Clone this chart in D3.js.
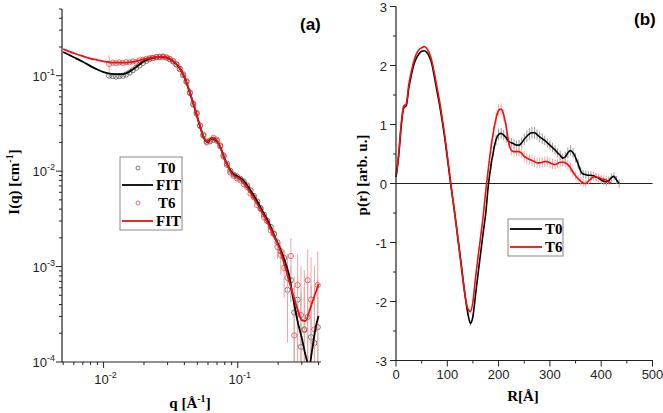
<!DOCTYPE html>
<html><head><meta charset="utf-8">
<script src="https://cdn.jsdelivr.net/npm/d3@7"></script>
<style>body{margin:0;background:#fff}svg{display:block}</style>
</head><body>
<svg id="c" width="663" height="413"></svg>
<script>
// ---------- Panel (a): SAXS curves ----------
const fitQ = [0.005,0.006,0.007,0.008,0.009,0.010,0.012,0.014,0.016,0.018,0.020,0.022,0.025,0.028,0.030,0.033,0.036,0.040,0.044,0.048,0.052,0.056,0.060,0.064,0.068,0.072,0.076,0.080,0.085,0.090,0.095,0.10,0.11,0.12,0.13,0.14,0.15,0.16,0.17,0.18,0.19,0.20,0.22,0.24,0.26,0.28,0.30,0.32,0.34,0.36,0.38,0.40];
const fitT0 = [0.177,0.156,0.140,0.126,0.116,0.109,0.104,0.104,0.113,0.127,0.142,0.151,0.156,0.157,0.154,0.141,0.126,0.097,0.066,0.0448,0.0303,0.0222,0.0202,0.0220,0.0214,0.0194,0.0164,0.0133,0.0112,0.0097,0.0091,0.0088,0.0080,0.0068,0.0057,0.0048,0.0040,0.0034,0.0029,0.0024,0.0020,0.00172,0.00123,0.000836,0.000447,0.000262,0.000178,0.000118,0.0000906,0.000140,0.000227,0.000303];
const fitT6 = [0.190,0.172,0.160,0.151,0.146,0.141,0.137,0.137,0.139,0.143,0.149,0.153,0.157,0.158,0.155,0.142,0.127,0.0976,0.0663,0.0451,0.0306,0.0223,0.0203,0.0223,0.0218,0.0196,0.0163,0.0131,0.0110,0.00948,0.00881,0.00851,0.00762,0.00644,0.00537,0.00454,0.00379,0.00324,0.00273,0.00231,0.00195,0.00169,0.00112,0.000723,0.000492,0.000351,0.000275,0.000269,0.000334,0.000426,0.000528,0.000656];

const dataQ = [0.0110,0.0117,0.0124,0.0131,0.0139,0.0147,0.0156,0.0165,0.0175,0.0185,0.0196,0.0208,0.0220,0.0233,0.0247,0.0262,0.0277,0.0294,0.0311,0.0330,0.0349,0.0370,0.0392,0.0415,0.0440,0.0466,0.0494,0.0523,0.0554,0.0587,0.0622,0.0659,0.0698,0.0740,0.0784,0.0830,0.0880,0.0932,0.0987,0.1046,0.1108,0.1174,0.1244,0.1318,0.1396,0.1479,0.1567,0.1660,0.1759,0.1863,0.1974,0.2091,0.2216,0.2347,0.2487,0.2635,0.2791,0.2957,0.3133,0.3319,0.3516,0.3725,0.3946];
const dataT0 = [0.100,0.099,0.098,0.099,0.100,0.103,0.108,0.114,0.121,0.128,0.136,0.143,0.149,0.153,0.156,0.158,0.158,0.155,0.149,0.141,0.131,0.117,0.101,0.086,0.066,0.050,0.040,0.030,0.024,0.0204,0.0205,0.0214,0.0208,0.0182,0.0146,0.0120,0.0101,0.0092,0.0088,0.0083,0.0078,0.0071,0.0063,0.0055,0.0048,0.0041,0.0035,0.0030,0.0026,0.0022,0.0018,0.00145,0.00123,0.00057,0.00072,0.00033,0.00045,0.000144,0.000216,0.000296,0.000182,0.000158,0.000232];
const errT0a = [0.004,0.003,0.003,0.003,0.003,0.003,0.003,0.003,0.003,0.003,0.003,0.003,0.003,0.003,0.003,0.003,0.003,0.003,0.003,0.003,0.003,0.002,0.002,0.002,0.0015,0.001,0.0008,0.0006,0.0005,0.0004,0.0004,0.0004,0.0004,0.0003,0.0003,0.0003,0.0002,0.0002,0.0002,0.0002,0.0002,0.0002,0.0002,0.0002,0.0002,0.0002,0.0002,0.0002,0.0002,0.0002,0.0002,0.0002,0.00025,0.0003,0.0003,0.0003,0.00035,0.0004,0.0004,0.0004,0.00045,0.00045,0.0005];
const dataT6 = [0.133,0.137,0.135,0.138,0.136,0.139,0.138,0.141,0.140,0.145,0.147,0.150,0.153,0.154,0.157,0.157,0.159,0.155,0.150,0.142,0.132,0.119,0.104,0.088,0.067,0.051,0.041,0.030,0.0235,0.0200,0.0210,0.0224,0.0214,0.0186,0.0142,0.0116,0.0097,0.0089,0.0084,0.0080,0.0073,0.0068,0.0058,0.0053,0.0044,0.0040,0.0033,0.0030,0.0024,0.0022,0.0016,0.00132,0.00097,0.00076,0.00129,0.00019,0.00064,0.00031,0.00022,0.00072,0.00045,0.00022,0.00064];
const errT6a = [0.030,0.004,0.004,0.004,0.004,0.004,0.004,0.004,0.004,0.004,0.004,0.004,0.004,0.004,0.004,0.004,0.004,0.004,0.004,0.004,0.003,0.003,0.003,0.002,0.002,0.0015,0.001,0.0008,0.0006,0.0005,0.0005,0.0005,0.0005,0.0004,0.0004,0.0004,0.0003,0.0003,0.0003,0.0003,0.0003,0.0003,0.0003,0.0003,0.0003,0.0003,0.0003,0.0003,0.0003,0.0003,0.0004,0.0005,0.0005,0.0006,0.0007,0.0006,0.0007,0.0007,0.0007,0.0008,0.0008,0.0008,0.0008];

const qTicks = [0.01, 0.1];
const iTicks = [1e-4, 1e-3, 1e-2, 1e-1];

// ---------- Panel (b): p(r) ----------
const rT0 = d3.range(0, 436, 5);
const pT0 = [0.11,0.45,0.95,1.28,1.32,1.62,1.84,2.02,2.13,2.20,2.24,2.25,2.22,2.15,2.02,1.80,1.56,1.33,1.06,0.77,0.44,
 0.10,-0.22,-0.54,-0.88,-1.22,-1.58,-1.92,-2.20,-2.37,-2.25,-1.89,-1.53,-1.18,-0.83,-0.50,-0.03,0.30,0.55,0.74,0.83,
 0.85,0.82,0.77,0.71,0.69,0.67,0.65,0.65,0.69,0.75,0.80,0.84,0.86,0.86,0.83,0.79,0.76,0.73,0.69,0.65,
 0.61,0.57,0.52,0.48,0.43,0.45,0.52,0.56,0.52,0.44,0.33,0.21,0.16,0.15,0.14,0.14,0.13,0.11,0.09,0.06,
 0.04,0.03,0.05,0.10,0.12,0.06,0.00];
const ePT0 = [0,0,0,0,0,0,0,0,0,0,0,0,0,0,0,0,0,0,0,0,0,0,0,0,0,0,0,0,
 0.04,0.05,0.04,0.03,0,0,0,0,0,
 0.08,0.09,0.09,0.10,0.09,0.09,0.08,0.08,0.08,0.08,0.08,0.09,0.09,0.10,0.10,0.10,0.10,0.10,0.09,0.09,0.09,0.08,0.08,0.08,0.08,0.08,0.08,0.08,0.08,0.09,0.09,0.09,0.08,0.08,0.08,0.07,0.07,0.07,0.07,0.07,0.07,0.07,0.07,0.07,0.07,0.07,0.07,0.07,0.07,0.07,0.07];
const rT6 = d3.range(0, 421, 5);
const pT6 = [0.12,0.48,1.00,1.31,1.35,1.68,1.90,2.08,2.20,2.27,2.30,2.32,2.29,2.21,2.07,1.86,1.63,1.39,1.11,0.82,0.48,
 0.13,-0.22,-0.54,-0.90,-1.25,-1.60,-1.92,-2.12,-2.17,-2.00,-1.60,-1.24,-0.90,-0.55,-0.12,0.25,0.60,0.88,1.10,1.24,
 1.26,1.16,0.95,0.68,0.56,0.54,0.54,0.54,0.51,0.46,0.43,0.41,0.39,0.37,0.35,0.35,0.36,0.37,0.37,0.35,
 0.33,0.32,0.34,0.36,0.36,0.35,0.32,0.27,0.19,0.13,0.08,0.04,0.01,0.00,0.04,0.08,0.11,0.11,0.10,0.08,
 0.07,0.06,0.03,0.00];
const ePT6 = [0,0,0,0,0,0,0,0,0,0,0,0,0,0,0,0,0,0,0,0,0,0,0,0,0,0,0,0,
 0.03,0.04,0.03,0.03,0,0,0,0,0,
 0.08,0.09,0.10,0.10,0.10,0.10,0.09,0.08,0.08,0.08,0.08,0.08,0.08,0.09,0.09,0.09,0.09,0.09,0.09,0.09,0.09,0.09,0.09,0.09,0.09,0.08,0.08,0.08,0.08,0.08,0.08,0.08,0.08,0.07,0.07,0.07,0.07,0.07,0.07,0.07,0.07,0.07,0.07,0.07,0.07,0.07];
const rTicks = [0,100,200,300,400,500];
const pTicks = [-3,-2,-1,0,1,2,3];

const svg = d3.select("#c");
const SANS = "Arial, 'Liberation Sans', sans-serif";
const SERIF = "'Times New Roman', 'Liberation Serif', serif";

// ===== Panel (a) =====
const xa = d3.scaleLog().domain([0.0049, 0.41]).range([62, 320]);
const ya = d3.scaleLog().domain([1e-4, 0.5]).range([362, 9]);
svg.append("clipPath").attr("id","clipA").append("rect").attr("x",62).attr("y",0).attr("width",262).attr("height",362);
const gA = svg.append("g").attr("clip-path","url(#clipA)");

function errBars(g, qs, vs, es, color, sx, sy) {
  g.selectAll(null).data(qs.map((q,i)=>({q, v:vs[i], e:es[i]}))).enter().append("line")
    .attr("x1", d=>sx(d.q)).attr("x2", d=>sx(d.q))
    .attr("y1", d=>sy(Math.max(d.v - d.e, 1e-6)))
    .attr("y2", d=>sy(d.v + d.e))
    .attr("stroke", color).attr("stroke-width", 1);
}
const ptsT0 = dataQ.map((q,i)=>({q, v:dataT0[i]}));
const ptsT6 = dataQ.map((q,i)=>({q, v:dataT6[i]}));
errBars(gA, dataQ, dataT0, errT0a, "#a8a8a8", xa, ya);
gA.selectAll(null).data(ptsT0).enter().append("circle")
  .attr("cx", d=>xa(d.q)).attr("cy", d=>ya(d.v)).attr("r", 2.6)
  .attr("fill","none").attr("stroke","#555").attr("stroke-width",0.8);
errBars(gA, dataQ, dataT6, errT6a, "#f2a4a4", xa, ya);
gA.selectAll(null).data(ptsT6).enter().append("circle")
  .attr("cx", d=>xa(d.q)).attr("cy", d=>ya(d.v)).attr("r", 2.6)
  .attr("fill","none").attr("stroke","#e34a4a").attr("stroke-width",0.8);
const lineA = d3.line().x(d=>xa(d[0])).y(d=>ya(d[1])).curve(d3.curveMonotoneX);
gA.append("path").attr("d", lineA(fitQ.map((q,i)=>[q, fitT0[i]])))
  .attr("fill","none").attr("stroke","#000").attr("stroke-width",1.8);
gA.append("path").attr("d", lineA(fitQ.map((q,i)=>[q, fitT6[i]])))
  .attr("fill","none").attr("stroke","#ee1111").attr("stroke-width",1.8);

// axes (a)
const axA = svg.append("g").attr("stroke","#222").attr("stroke-width",1.2);
axA.append("line").attr("x1",62).attr("x2",62).attr("y1",9).attr("y2",362);
axA.append("line").attr("x1",62).attr("x2",321).attr("y1",362).attr("y2",362);
// y minor/major ticks
const yMin = [];
for (let e=-4; e<=-1; e++) for (let m=1; m<=9; m++) { const v = m*Math.pow(10,e); if (v<=0.5) yMin.push({v, major:m===1}); }
axA.selectAll(null).data(yMin).enter().append("line")
  .attr("x1",62).attr("x2", d=> d.major ? 56 : 59)
  .attr("y1", d=>ya(d.v)).attr("y2", d=>ya(d.v)).attr("stroke-width",1);
const xMin = [];
for (let e=-3; e<=-1; e++) for (let m=1; m<=9; m++) { const v = m*Math.pow(10,e); if (v>=0.0049 && v<=0.41) xMin.push({v, major:m===1}); }
axA.selectAll(null).data(xMin).enter().append("line")
  .attr("y1",362).attr("y2", d=> d.major ? 368 : 365)
  .attr("x1", d=>xa(d.v)).attr("x2", d=>xa(d.v)).attr("stroke-width",1);
// labels
function powLabel(g, x, y, exp, anchor) {
  const t = g.append("text").attr("x",x).attr("y",y).attr("text-anchor",anchor)
    .attr("font-family",SANS).attr("font-size",13).attr("fill","#222");
  t.append("tspan").text("10");
  t.append("tspan").attr("dy",-6).attr("font-size",9).text(exp);
}
iTicks.forEach(v => powLabel(svg, 55, ya(v)+5, String(Math.round(Math.log10(v))), "end"));
qTicks.forEach(v => powLabel(svg, xa(v)+2, 384, String(Math.round(Math.log10(v))), "middle"));

const tq = svg.append("text").attr("x",190).attr("y",408).attr("text-anchor","middle")
  .attr("font-family",SERIF).attr("font-weight","bold").attr("font-size",15);
tq.append("tspan").text("q [Å");
tq.append("tspan").attr("dy",-6).attr("font-size",10).text("-1");
tq.append("tspan").attr("dy",6).text("]");
const ti = svg.append("text").attr("transform","translate(19,182) rotate(-90)").attr("text-anchor","middle")
  .attr("font-family",SERIF).attr("font-weight","bold").attr("font-size",15);
ti.append("tspan").text("I(q) [cm");
ti.append("tspan").attr("dy",-6).attr("font-size",10).text("-1");
ti.append("tspan").attr("dy",6).text("]");
svg.append("text").attr("x",300).attr("y",30).attr("font-family",SANS).attr("font-weight","bold")
  .attr("font-size",17).text("(a)");

// legend (a)
const lgA = svg.append("g");
lgA.append("rect").attr("x",120).attr("y",157).attr("width",62).attr("height",73)
  .attr("fill","#fff").attr("stroke","#888").attr("stroke-width",1);
const legA = [
  {t:"T0", type:"c", c:"#555", y:168},
  {t:"FIT", type:"l", c:"#000", y:185},
  {t:"T6", type:"c", c:"#e34a4a", y:203},
  {t:"FIT", type:"l", c:"#ee1111", y:221}];
legA.forEach(d => {
  if (d.type==="c") lgA.append("circle").attr("cx",138).attr("cy",d.y).attr("r",2).attr("fill","none").attr("stroke",d.c).attr("stroke-width",0.8);
  else lgA.append("line").attr("x1",122).attr("x2",153).attr("y1",d.y).attr("y2",d.y).attr("stroke",d.c).attr("stroke-width",1.8);
  lgA.append("text").attr("x", d.type==="c"?158:156).attr("y",d.y+5).attr("font-family",SERIF)
    .attr("font-weight","bold").attr("font-size",15).text(d.t);
});

// ===== Panel (b) =====
const xb = d3.scaleLinear().domain([0,500]).range([396, 652.5]);
const yb = d3.scaleLinear().domain([-3,3]).range([360.5, 6.5]);
const gB = svg.append("g");
// zero line
gB.append("line").attr("x1",xb(0)).attr("x2",xb(500)).attr("y1",yb(0)).attr("y2",yb(0)).attr("stroke","#222").attr("stroke-width",1.2);
function errB(rs, ps, es, color) {
  gB.selectAll(null).data(rs.map((r,i)=>({r, p:ps[i], e:es[i]})).filter(d=>d.e>0)).enter().append("line")
    .attr("x1",d=>xb(d.r)).attr("x2",d=>xb(d.r)).attr("y1",d=>yb(d.p-d.e)).attr("y2",d=>yb(d.p+d.e))
    .attr("stroke",color).attr("stroke-width",1);
}
errB(rT0, pT0, ePT0, "#9a9a9a");
errB(rT6, pT6, ePT6, "#f4a8a8");
const lineB = d3.line().x(d=>xb(d[0])).y(d=>yb(d[1])).curve(d3.curveMonotoneX);
gB.append("path").attr("d", lineB(rT0.map((r,i)=>[r,pT0[i]]))).attr("fill","none").attr("stroke","#000").attr("stroke-width",1.6);
gB.append("path").attr("d", lineB(rT6.map((r,i)=>[r,pT6[i]]))).attr("fill","none").attr("stroke","#ee1111").attr("stroke-width",1.6);

const axB = svg.append("g").attr("stroke","#222");
axB.append("line").attr("x1",396).attr("x2",396).attr("y1",6.5).attr("y2",360.5).attr("stroke-width",1.2);
axB.append("line").attr("x1",396).attr("x2",653).attr("y1",360.5).attr("y2",360.5).attr("stroke-width",1.2);
const pMinor = d3.range(-3, 3.01, 0.5);
axB.selectAll(null).data(pMinor).enter().append("line")
  .attr("x1",396).attr("x2", d=> Number.isInteger(d) ? 390 : 393)
  .attr("y1", d=>yb(d)).attr("y2", d=>yb(d));
const rMinor = d3.range(0, 501, 50);
axB.selectAll(null).data(rMinor).enter().append("line")
  .attr("y1",360.5).attr("y2", d=> d%100===0 ? 366.5 : 363.5)
  .attr("x1", d=>xb(d)).attr("x2", d=>xb(d));
pTicks.forEach(v => svg.append("text").attr("x",387).attr("y",yb(v)+5).attr("text-anchor","end")
  .attr("font-family",SANS).attr("font-size",13).attr("fill","#222").text(v));
rTicks.forEach(v => svg.append("text").attr("x",xb(v)).attr("y",379).attr("text-anchor","middle")
  .attr("font-family",SANS).attr("font-size",13).attr("fill","#222").text(v));
svg.append("text").attr("x",523).attr("y",401).attr("text-anchor","middle")
  .attr("font-family",SERIF).attr("font-weight","bold").attr("font-size",15).text("R[Å]");
svg.append("text").attr("transform","translate(367,175) rotate(-90)").attr("text-anchor","middle")
  .attr("font-family",SERIF).attr("font-weight","bold").attr("font-size",15).text("p(r) [arb. u.]");
svg.append("text").attr("x",634).attr("y",25).attr("font-family",SANS).attr("font-weight","bold")
  .attr("font-size",17).text("(b)");

// legend (b)
const lgB = svg.append("g");
lgB.append("rect").attr("x",508).attr("y",219).attr("width",55).attr("height",37)
  .attr("fill","#fff").attr("stroke","#888").attr("stroke-width",1);
[{t:"T0", c:"#000", y:229},{t:"T6", c:"#ee1111", y:247}].forEach(d => {
  lgB.append("line").attr("x1",510).attr("x2",542).attr("y1",d.y).attr("y2",d.y).attr("stroke",d.c).attr("stroke-width",1.8);
  lgB.append("text").attr("x",545).attr("y",d.y+5).attr("font-family",SERIF).attr("font-weight","bold").attr("font-size",15).text(d.t);
});
</script>
</body></html>
